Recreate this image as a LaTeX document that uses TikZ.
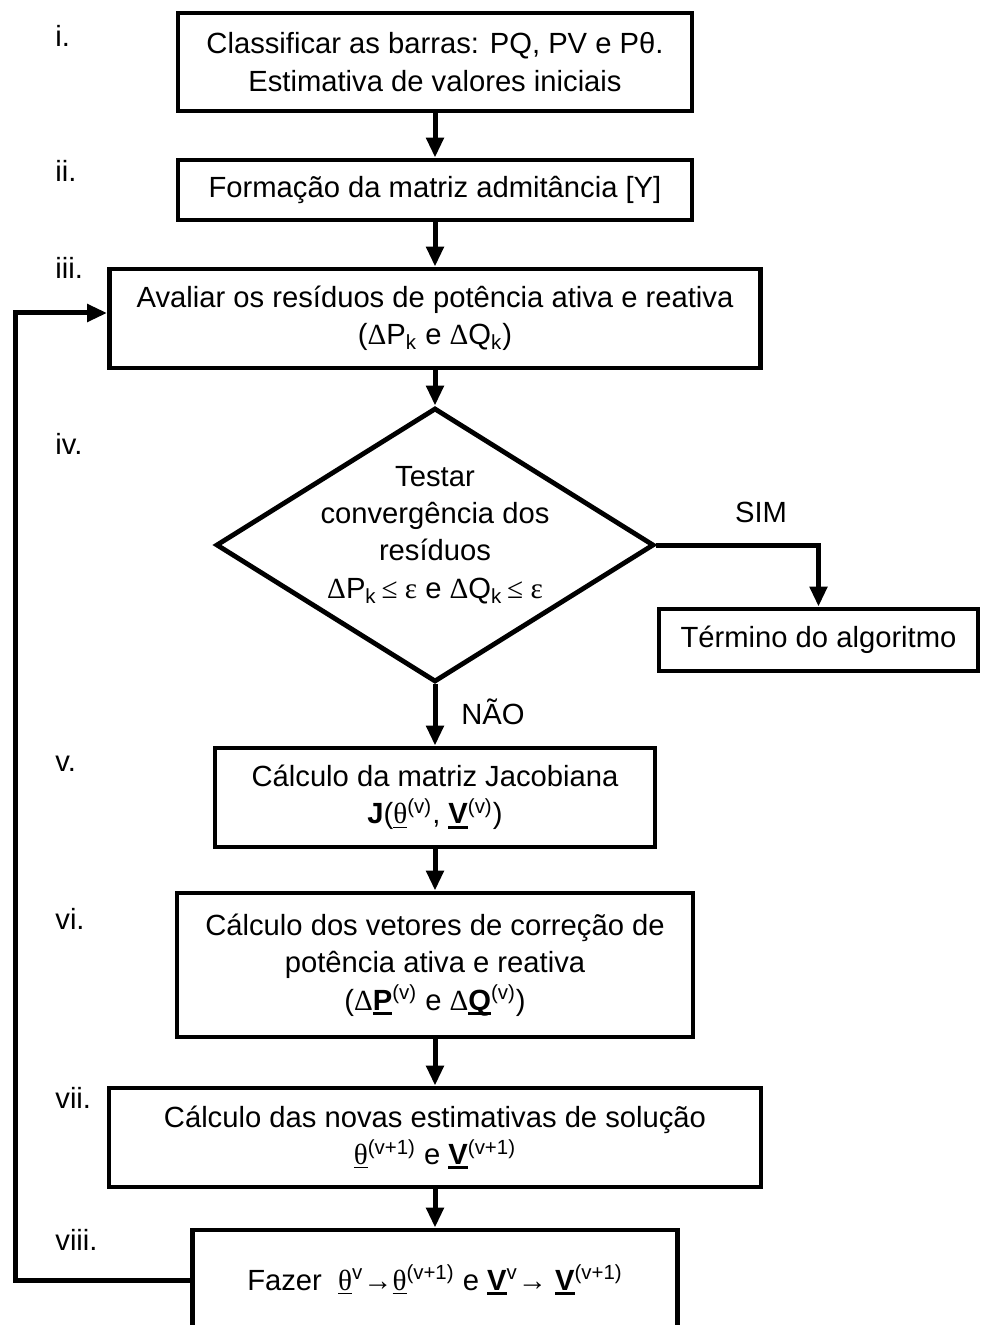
\documentclass[tikz,border=0pt]{standalone}
\usepackage{fontspec}
\setmainfont{Liberation Sans}
\newfontfamily\symb{Liberation Serif}
\usetikzlibrary{shapes.geometric,arrows.meta}

% bold vector with a heavy underline
\newcommand{\vetor}[1]{\setbox0\hbox{\textbf{#1}}\rlap{\rule[-2.4pt]{\wd0}{1.5pt}}\box0}

\tikzset{
  caixa/.style={draw=black, line width=2.4pt, align=center, inner sep=0pt},
  decisao/.style={draw=black, diamond, line width=2.4pt, inner sep=0pt, minimum width=219pt, minimum height=137pt},
  seta/.style={line width=2.5pt, -{Triangle[length=10pt,width=8.5pt]}},
  rotulo/.style={anchor=west, inner sep=0pt},
}

\begin{document}
\begin{tikzpicture}[x=0.5pt, y=-0.5pt, font=\fontsize{14.6}{18.7}\selectfont]
\useasboundingbox (0,0) rectangle (982,1325);
\clip (0,0) rectangle (982,1325);

%% Steps
\node[caixa, minimum width=257pt, minimum height=49pt] (classif) at (435,62) {Classificar as barras: PQ, PV e Pθ.\\Estimativa de valores iniciais};
\node[caixa, minimum width=257pt, minimum height=30pt] (formacao) at (435,190) {Formação da matriz admitância [Y]};
\node[caixa, minimum width=325.5pt, minimum height=49.5pt] (avaliar) at (435,318.5) {Avaliar os resíduos de potência ativa e reativa\\({\symb Δ}P\textsubscript{k} e {\symb Δ}Q\textsubscript{k})};
%
\node[decisao] (testar) at (435,545) {};
\node[align=center, inner sep=0pt] (testartxt) at (435,535) {Testar\\convergência dos\\resíduos\\{\symb Δ}P\textsubscript{k}{\symb\,≤ ε} e {\symb Δ}Q\textsubscript{k}{\symb\,≤ ε}};
\node[caixa, minimum width=159.5pt, minimum height=31pt] (termino) at (818.5,640) {Término do algoritmo};
%
\node[caixa, minimum width=220pt, minimum height=49.5pt] (jacob) at (435,797.5) {Cálculo da matriz Jacobiana\\\textbf{J}(\underline{{\symb θ}}\textsuperscript{(v)}, \vetor{V}\textsuperscript{(v)})};
\node[caixa, minimum width=258pt, minimum height=72pt] (correcao) at (435,965) {Cálculo dos vetores de correção de\\potência ativa e reativa\\({\symb Δ}\vetor{P}\textsuperscript{(v)} e {\symb Δ}\vetor{Q}\textsuperscript{(v)})};
\node[caixa, minimum width=326pt, minimum height=49.5pt] (novas) at (435,1137.5) {Cálculo das novas estimativas de solução\\\underline{{\symb θ}}\textsuperscript{(v+1)} e \vetor{V}\textsuperscript{(v+1)}};
\node[caixa, minimum width=242.5pt, minimum height=50pt] (fazer) at (435,1280) {Fazer\ \ \underline{{\symb θ}}\textsuperscript{v}{\symb →}\underline{{\symb θ}}\textsuperscript{(v+1)} e \vetor{V}\textsuperscript{v}{\symb →} \vetor{V}\textsuperscript{(v+1)}};

%% Step numbers
\node[rotulo] (ri) at (55,36) {i.};
\node[rotulo] (rii) at (55,171) {ii.};
\node[rotulo] (riii) at (55,268) {iii.};
\node[rotulo] (riv) at (55,444) {iv.};
\node[rotulo] (rv) at (55,764) {v.};
\node[rotulo] (rvi) at (55,919) {vi.};
\node[rotulo] (rvii) at (55,1098) {vii.};
\node[rotulo] (rviii) at (55,1240) {viii.};

%% Arrows
\draw[seta] (classif) -- (formacao);
\draw[seta] (formacao) -- (avaliar);
\draw[seta] (avaliar) -- (testar.north);
\draw[seta] (testar.east) -| (termino.north);
\draw[seta] (testar.south) -- (jacob.north);
\draw[seta] (jacob) -- (correcao);
\draw[seta] (correcao) -- (novas);
\draw[seta] (novas) -- (fazer);
\node (sim) at (761,512) {SIM};
\node (nao) at (493,712) {NÃO};

%% Loop back
\coordinate (volta) at (15,313);
\draw[seta] (fazer.west) -| (volta) -- (avaliar.west |- volta);

\end{tikzpicture}
\end{document}
